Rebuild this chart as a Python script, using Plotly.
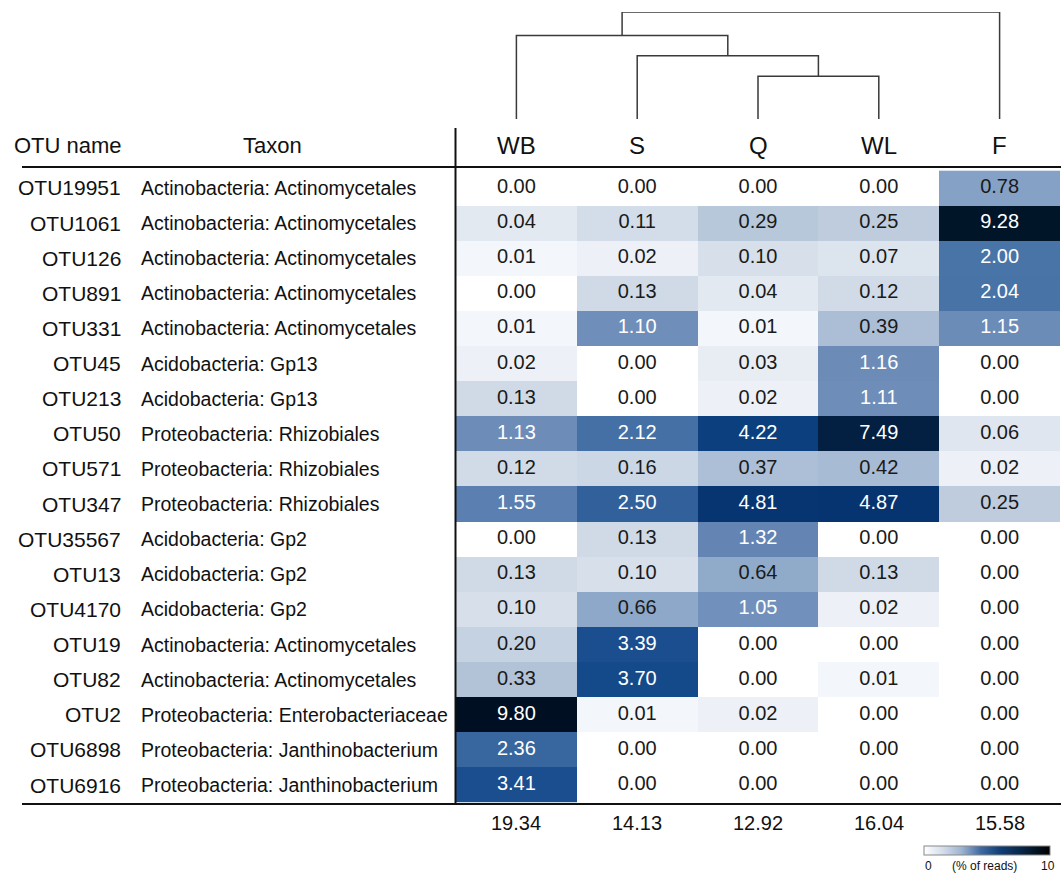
import plotly.graph_objects as go

# ---------------- data ----------------
otu_names = ["OTU19951", "OTU1061", "OTU126", "OTU891", "OTU331", "OTU45", "OTU213",
             "OTU50", "OTU571", "OTU347", "OTU35567", "OTU13", "OTU4170", "OTU19",
             "OTU82", "OTU2", "OTU6898", "OTU6916"]
taxa = ["Actinobacteria: Actinomycetales", "Actinobacteria: Actinomycetales",
        "Actinobacteria: Actinomycetales", "Actinobacteria: Actinomycetales",
        "Actinobacteria: Actinomycetales", "Acidobacteria: Gp13", "Acidobacteria: Gp13",
        "Proteobacteria: Rhizobiales", "Proteobacteria: Rhizobiales",
        "Proteobacteria: Rhizobiales", "Acidobacteria: Gp2", "Acidobacteria: Gp2",
        "Acidobacteria: Gp2", "Actinobacteria: Actinomycetales",
        "Actinobacteria: Actinomycetales", "Proteobacteria: Enterobacteriaceae",
        "Proteobacteria: Janthinobacterium", "Proteobacteria: Janthinobacterium"]
samples = ["WB", "S", "Q", "WL", "F"]
WB = [0.00, 0.04, 0.01, 0.00, 0.01, 0.02, 0.13, 1.13, 0.12, 1.55, 0.00, 0.13, 0.10, 0.20, 0.33, 9.80, 2.36, 3.41]
S = [0.00, 0.11, 0.02, 0.13, 1.10, 0.00, 0.00, 2.12, 0.16, 2.50, 0.13, 0.10, 0.66, 3.39, 3.70, 0.01, 0.00, 0.00]
Q = [0.00, 0.29, 0.10, 0.04, 0.01, 0.03, 0.02, 4.22, 0.37, 4.81, 1.32, 0.64, 1.05, 0.00, 0.00, 0.02, 0.00, 0.00]
WL = [0.00, 0.25, 0.07, 0.12, 0.39, 1.16, 1.11, 7.49, 0.42, 4.87, 0.00, 0.13, 0.02, 0.00, 0.01, 0.00, 0.00, 0.00]
F = [0.78, 9.28, 2.00, 2.04, 1.15, 0.00, 0.00, 0.06, 0.02, 0.25, 0.00, 0.00, 0.00, 0.00, 0.00, 0.00, 0.00, 0.00]
totals = [19.34, 14.13, 12.92, 16.04, 15.58]
# dendrogram: merges (left cluster, right cluster, height)
dendro_merges = [("Q", "WL", 0.40), ("S", ("Q", "WL"), 0.59),
                 ("WB", ("S", ("Q", "WL")), 0.78), (("WB", ("S", ("Q", "WL"))), "F", 1.0)]
cbar_min, cbar_max = 0, 10

# ---------------- layout constants ----------------
W, H = 1061, 875
def px_x(p): return p / W
def px_y(p): return (H - p) / H

FONT = "Liberation Sans, Arial, sans-serif"
INK = "#111111"
cols = {"WB": WB, "S": S, "Q": Q, "WL": WL, "F": F}
z = [[cols[s][i] for s in samples] for i in range(len(otu_names))]
n_rows, n_cols = len(otu_names), len(samples)

cell_scale = [
    [0.000, "#ffffff"], [0.001, "#f3f6fa"], [0.002, "#edf1f7"], [0.004, "#e3e9f1"],
    [0.012, "#d1dbe8"], [0.020, "#c5d2e2"], [0.035, "#afc1d7"], [0.065, "#8fa9ca"],
    [0.105, "#7190bb"], [0.130, "#6586b3"], [0.155, "#5a7fb0"], [0.210, "#4571a6"],
    [0.250, "#31609a"], [0.340, "#1a4e8f"], [0.370, "#154a8a"], [0.420, "#0b3f7e"],
    [0.485, "#063470"], [0.750, "#031f42"], [0.930, "#011529"], [1.000, "#000d1f"]]

bar_scale = [[0.0, "#ffffff"], [0.15, "#d4dde9"], [0.3, "#9db3cf"], [0.45, "#3f6aa0"],
             [0.6, "#123f78"], [0.8, "#06223f"], [1.0, "#000000"]]

fig = go.Figure()
fig.add_trace(go.Heatmap(z=z, x=samples, y=otu_names, colorscale=cell_scale,
                         zmin=cbar_min, zmax=cbar_max, showscale=False, xgap=0, ygap=0,
                         hoverinfo="skip"))

# cell text
for dark in (False, True):
    xs, ys, ts = [], [], []
    for i, name in enumerate(otu_names):
        for s in samples:
            v = cols[s][i]
            if (v > 1.0) == dark:
                xs.append(s); ys.append(name); ts.append(f"{v:.2f}")
    fig.add_trace(go.Scatter(x=xs, y=ys, text=ts, mode="text", hoverinfo="skip",
                             textfont=dict(family=FONT, size=20,
                                           color="#ffffff" if dark else "#1a1a1a"),
                             showlegend=False))

# dendrogram
leaf_pos = {s: i for i, s in enumerate(samples)}
heights = {}
def node_info(node):
    if isinstance(node, str):
        return leaf_pos[node], 0.0
    return heights[node]
for left, right, h in dendro_merges:
    lx, lh = node_info(left)
    rx, rh = node_info(right)
    fig.add_trace(go.Scatter(x=[lx, lx, rx, rx], y=[lh, h, h, rh], mode="lines",
                             line=dict(color="#3a3a3a", width=1.5), xaxis="x2", yaxis="y2",
                             hoverinfo="skip", showlegend=False))
    heights[(left, right)] = ((lx + rx) / 2, h)

# colorbar carrier
fig.add_trace(go.Scatter(x=[0, 1], y=[0, 1], mode="markers", xaxis="x3", yaxis="y3",
                         hoverinfo="skip", showlegend=False,
                         marker=dict(color=[cbar_min, cbar_max], colorscale=bar_scale,
                                     cmin=cbar_min, cmax=cbar_max, opacity=0, size=1,
                                     showscale=True,
                                     colorbar=dict(orientation="h", thickness=9,
                                                   len=126, lenmode="pixels",
                                                   x=px_x(987), xanchor="center",
                                                   y=px_y(851), yanchor="middle",
                                                   outlinewidth=1, outlinecolor="#888888",
                                                   xpad=0, ypad=0,
                                                   showticklabels=False, ticks=""))))

hm_top, hm_bot = 170.4, 802.6
fig.update_layout(
    width=W, height=H, margin=dict(l=0, r=0, t=0, b=0),
    paper_bgcolor="white", plot_bgcolor="white", showlegend=False,
    xaxis=dict(domain=[px_x(456), px_x(1060)], showticklabels=False, showgrid=False,
               zeroline=False, range=[-0.5, n_cols - 0.5], fixedrange=True),
    yaxis=dict(domain=[px_y(hm_bot), px_y(hm_top)], showticklabels=False, showgrid=False,
               zeroline=False, range=[n_rows - 0.5, -0.5], fixedrange=True),
    xaxis2=dict(domain=[px_x(456), px_x(1060)], range=[-0.5, n_cols - 0.5], visible=False,
                anchor="y2"),
    yaxis2=dict(domain=[px_y(119), px_y(12)], range=[0, 1.0], visible=False, anchor="x2"),
    xaxis3=dict(domain=[0, 0.01], visible=False, anchor="y3"),
    yaxis3=dict(domain=[0, 0.01], visible=False, anchor="x3"),
)

def txt(text, x, y, xref, yref, size, xanchor="center"):
    return dict(text=text, x=x, y=y, xref=xref, yref=yref, xanchor=xanchor,
                yanchor="middle", showarrow=False,
                font=dict(family=FONT, size=size, color=INK))

ann = []
ann.append(txt("OTU name", px_x(68), px_y(146), "paper", "paper", 22))
ann.append(txt("Taxon", px_x(272), px_y(146), "paper", "paper", 22))
for s in samples:
    ann.append(txt(s, s, px_y(146), "x", "paper", 24))
for name, tx in zip(otu_names, taxa):
    ann.append(txt(name, px_x(123), name, "paper", "y", 21, "right"))
    ann.append(txt(tx, px_x(139), name, "paper", "y", 19.5, "left"))
for s, t in zip(samples, totals):
    ann.append(txt(f"{t:.2f}", s, px_y(823), "x", "paper", 20))
ann.append(txt("0", px_x(928), px_y(866), "paper", "paper", 12))
ann.append(txt("(% of reads)", px_x(984), px_y(866), "paper", "paper", 12))
ann.append(txt("10", px_x(1048), px_y(866), "paper", "paper", 12))
fig.update_layout(annotations=ann)

shapes = [
    dict(type="line", xref="paper", yref="paper", x0=px_x(22), x1=1, y0=px_y(167), y1=px_y(167),
         line=dict(color=INK, width=2)),
    dict(type="line", xref="paper", yref="paper", x0=px_x(22), x1=1, y0=px_y(804), y1=px_y(804),
         line=dict(color=INK, width=2)),
    dict(type="line", xref="paper", yref="paper", x0=px_x(455.5), x1=px_x(455.5),
         y0=px_y(128), y1=px_y(803), line=dict(color=INK, width=2)),
]
fig.update_layout(shapes=shapes)

fig.write_html("out.html", config={"displayModeBar": False},
               post_script="document.body.style.margin='0';document.body.style.overflow='hidden';")
